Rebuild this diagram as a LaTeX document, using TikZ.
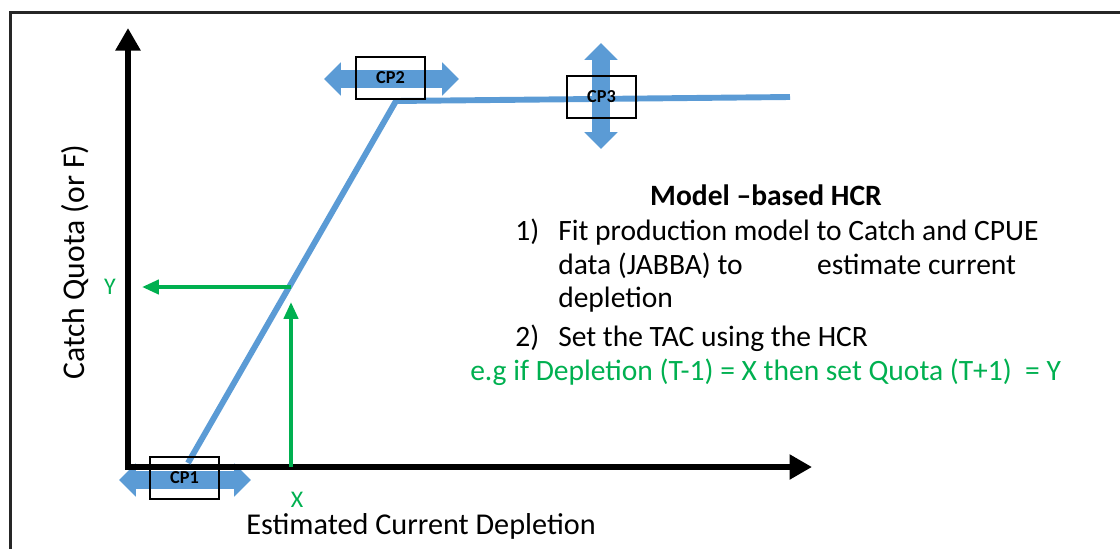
\documentclass[tikz,border=0pt]{standalone}
\usepackage{fontspec}
\setmainfont{Carlito}
\usepackage{xcolor}
\usepackage{tikz}
\usetikzlibrary{arrows.meta}

\definecolor{hcrblue}{RGB}{91,155,213}
\definecolor{hcrgreen}{RGB}{0,176,80}

\begin{document}
\begin{tikzpicture}[x=0.025cm, y=-0.025cm,
		axis/.style={line width=4.6pt, line join=miter,
			{Triangle[width=17pt,length=16pt]}-{Triangle[width=17pt,length=16pt]}},
		hcr/.style={line width=4.2pt, hcrblue},
		cpshift/.style={line width=12.5pt, hcrblue,
			{Triangle[width=23pt,length=12pt]}-{Triangle[width=23pt,length=12pt]}},
		cpbox/.style={draw, line width=1.4pt, minimum width=49pt, minimum height=30pt,
			inner sep=0pt, font=\fontsize{13}{15}\selectfont\bfseries},
		guide/.style={line width=2.8pt, hcrgreen, -{Triangle[width=10pt,length=12pt]}},
		txt/.style={font=\fontsize{21}{24}\selectfont, inner sep=0pt, anchor=base west}]
		\clip (0,0) rectangle (1120,548);
		\draw[line width=1.5pt, black!85] (10.5,12.5) rectangle (1140,570);
		
		% movable control points
		\draw[cpshift] (119,480) -- (251,480);
		\draw[cpshift] (324,79) -- (459,79);
		\draw[cpshift] (601,43) -- (601,149);
		
		% axes
		\coordinate (origin) at (128,467);
		\coordinate (ytip) at (128,28);
		\coordinate (xtip) at (812,467);
		\draw[axis] (ytip) -- (origin) -- (xtip);
		
		% harvest control rule
		\coordinate (knot1) at (188,463);
		\coordinate (knot2) at (396,101);
		\coordinate (hcrend) at (790,97);
		\draw[hcr] (knot1) -- (knot2) -- (hcrend);
		
		\node[cpbox] (cp1) at (184.5,478) {CP1};
		\node[cpbox] (cp2) at (390.5,78) {CP2};
		\node[cpbox] (cp3) at (601.5,97) {CP3};
		
		% reading the rule
		\coordinate (xfoot) at (291,467);
		\coordinate (xhead) at (291,302);
		\coordinate (hit) at (291,287);
		\coordinate (yhead) at (142,287);
		\draw[guide] (xfoot) -- (xhead);
		\draw[guide] (hit) -- (yhead);
		\node[hcrgreen, font=\fontsize{17}{20}\selectfont] (ylab) at (110,287) {Y};
		\node[hcrgreen, font=\fontsize{17}{20}\selectfont] (xlab) at (297,500) {X};
		
		\node[font=\fontsize{21.5}{24}\selectfont, inner sep=0pt, anchor=base] (xtitle) at (421,534) {Estimated Current Depletion};
		\node[font=\fontsize{22.5}{26}\selectfont, inner sep=0pt, rotate=90] (ytitle) at (75,262) {Catch Quota (or F)};
		
		% text block
		\node[font=\fontsize{21}{24}\selectfont\bfseries, inner sep=0pt, anchor=base] (title) at (766,205) {Model –based HCR};
		\node[txt] (n1) at (515,240) {1)};
		\node[txt] (l1) at (558,240) {Fit production model to Catch and CPUE};
		\node[txt] (l2) at (558,274) {data (JABBA) to\hspace{53pt}estimate current};
		\node[txt] (l3) at (558,307) {depletion};
		\node[txt] (n2) at (515,346) {2)};
		\node[txt] (l4) at (558,346) {Set the TAC using the HCR};
		\node[txt, hcrgreen] (eg) at (470,380) {e.g if Depletion (T-1) = X then set Quota (T+1) \ = Y};
	\end{tikzpicture}
\end{document}
